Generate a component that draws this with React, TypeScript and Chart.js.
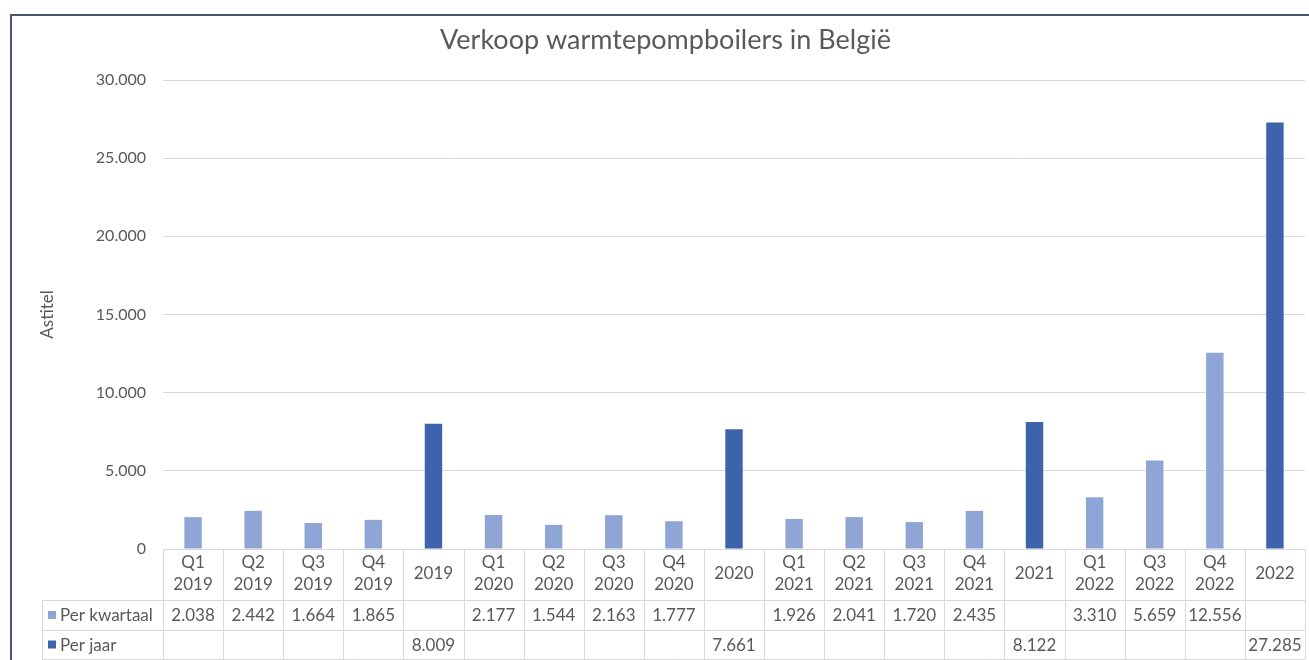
import React, { useEffect, useRef } from "react";
import { Chart, registerables } from "chart.js";

Chart.register(...registerables);

const categories: string[][] = [
  ["Q1", "2019"], ["Q2", "2019"], ["Q3", "2019"], ["Q4", "2019"], ["2019"],
  ["Q1", "2020"], ["Q2", "2020"], ["Q3", "2020"], ["Q4", "2020"], ["2020"],
  ["Q1", "2021"], ["Q2", "2021"], ["Q3", "2021"], ["Q4", "2021"], ["2021"],
  ["Q1", "2022"], ["Q3", "2022"], ["Q4", "2022"], ["2022"],
];

const perKwartaal: (number | null)[] = [
  2038, 2442, 1664, 1865, null,
  2177, 1544, 2163, 1777, null,
  1926, 2041, 1720, 2435, null,
  3310, 5659, 12556, null,
];

const perJaar: (number | null)[] = [
  null, null, null, null, 8009,
  null, null, null, null, 7661,
  null, null, null, null, 8122,
  null, null, null, 27285,
];

const seriesNames = ["Per kwartaal", "Per jaar"];
const chartTitle = "Verkoop warmtepompboilers in België";
const yAxisTitle = "Astitel";

const FONT = "Lato, 'Open Sans', 'DejaVu Sans', sans-serif";
const TEXT = "#595959";
const GRID = "#D9D9D9";
const LIGHT = "#8FA5D6";
const DARK = "#3D63AC";
const FRAME = "#45566F";

const fmt = (v: number) => String(v).replace(/\B(?=(\d{3})+(?!\d))/g, ".");

const framePlugin = {
  id: "frame",
  beforeDraw(chart: any) {
    const ctx = chart.ctx;
    ctx.save();
    ctx.fillStyle = "#ffffff";
    ctx.fillRect(0, 0, chart.width, chart.height);
    ctx.strokeStyle = FRAME;
    ctx.lineWidth = 2;
    ctx.strokeRect(11, 15, chart.width + 20, chart.height + 20);
    ctx.restore();
  },
};

const tablePlugin = {
  id: "dataTable",
  afterDraw(chart: any) {
    const ctx = chart.ctx;
    const xs = chart.scales.x;
    const area = chart.chartArea;
    const n = categories.length;
    const step = xs.getPixelForValue(1) - xs.getPixelForValue(0);
    const top = area.bottom;
    const r1 = top + 51;
    const r2 = r1 + 30;
    const r3 = r2 + 29;
    const legendLeft = 42;
    const right = xs.getPixelForValue(n - 1) + step / 2;

    ctx.save();
    ctx.strokeStyle = GRID;
    ctx.lineWidth = 1;
    ctx.beginPath();
    for (let i = 0; i <= n; i++) {
      const x = Math.round(xs.getPixelForValue(i) - step / 2) + 0.5;
      ctx.moveTo(x, top);
      ctx.lineTo(x, r3);
    }
    ctx.moveTo(legendLeft + 0.5, r1);
    ctx.lineTo(legendLeft + 0.5, r3);
    [r1, r2, r3].forEach((y) => {
      ctx.moveTo(legendLeft, Math.round(y) + 0.5);
      ctx.lineTo(right, Math.round(y) + 0.5);
    });
    ctx.stroke();

    ctx.fillStyle = TEXT;
    ctx.font = `17px ${FONT}`;
    ctx.textAlign = "center";
    ctx.textBaseline = "middle";
    categories.forEach((lab, i) => {
      const cx = xs.getPixelForValue(i);
      if (lab.length === 2) {
        ctx.fillText(lab[0], cx, top + 14);
        ctx.fillText(lab[1], cx, top + 36);
      } else {
        ctx.fillText(lab[0], cx, top + 25);
      }
    });

    const rows = [perKwartaal, perJaar];
    const colors = [LIGHT, DARK];
    const rowMid = [(r1 + r2) / 2, (r2 + r3) / 2];
    rows.forEach((vals, ri) => {
      const y = rowMid[ri];
      ctx.fillStyle = colors[ri];
      ctx.fillRect(legendLeft + 6, y - 4, 8, 8);
      ctx.fillStyle = TEXT;
      ctx.textAlign = "left";
      ctx.fillText(seriesNames[ri], legendLeft + 18, y + 1);
      ctx.textAlign = "center";
      vals.forEach((v, i) => {
        if (v == null) return;
        ctx.fillText(fmt(v), xs.getPixelForValue(i), y + 1);
      });
    });
    ctx.restore();
  },
};

export default function App() {
  const ref = useRef<HTMLCanvasElement | null>(null);

  useEffect(() => {
    if (!ref.current) return;
    const chart = new Chart(ref.current, {
      type: "bar",
      data: {
        labels: categories.map((c) => c.join(" ")),
        datasets: [
          {
            label: seriesNames[0],
            data: perKwartaal,
            backgroundColor: LIGHT,
            grouped: false,
            barPercentage: 0.29,
            categoryPercentage: 1,
          } as any,
          {
            label: seriesNames[1],
            data: perJaar,
            backgroundColor: DARK,
            grouped: false,
            barPercentage: 0.29,
            categoryPercentage: 1,
          } as any,
        ],
      },
      options: {
        responsive: false,
        animation: false,
        layout: { padding: { left: 26, right: 4, top: 0, bottom: 0 } },
        plugins: {
          legend: { display: false },
          tooltip: { enabled: false },
          title: {
            display: true,
            text: chartTitle,
            color: TEXT,
            font: { family: FONT, size: 27, weight: "normal" },
            padding: { top: 24, bottom: 23.6 },
          },
        },
        scales: {
          x: {
            ticks: { display: false },
            grid: { display: false },
            border: { display: false },
            afterFit: (s: any) => {
              s.height = 111;
            },
          },
          y: {
            min: 0,
            max: 30000,
            ticks: {
              stepSize: 5000,
              callback: (v: any) => fmt(Number(v)),
              color: TEXT,
              font: { family: FONT, size: 16 },
              padding: 17,
            },
            grid: { color: GRID, drawTicks: false, lineWidth: 1 },
            border: { display: false },
            title: {
              display: true,
              text: yAxisTitle,
              color: TEXT,
              font: { family: FONT, size: 17 },
              padding: { top: 11, bottom: 4 },
            },
            afterFit: (s: any) => {
              s.width = 163 - 26;
            },
          },
        },
      },
      plugins: [framePlugin, tablePlugin],
    });
    return () => chart.destroy();
  }, []);

  return (
    <div style={{ position: "absolute", left: 0, top: 0, width: 1309, height: 660 }}>
      <canvas ref={ref} width={1309} height={660} />
    </div>
  );
}
